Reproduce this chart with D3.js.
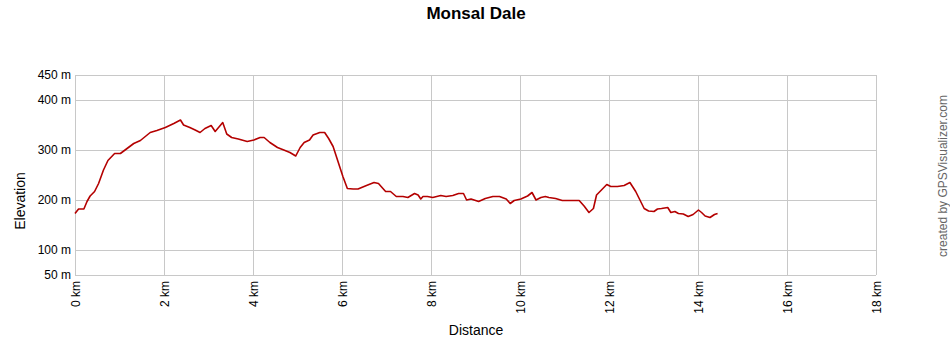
<!DOCTYPE html>
<html>
<head>
<meta charset="utf-8">
<script src="https://cdn.jsdelivr.net/npm/d3@7/dist/d3.min.js"></script>
<style>
  body { margin: 0; background: #fff; }
  svg { display: block; font-family: "Liberation Sans", Arial, sans-serif; }
</style>
</head>
<body>
<svg id="chart" width="950" height="350"></svg>
<script>
const title = "Monsal Dale";
const xTicks = [0, 2, 4, 6, 8, 10, 12, 14, 16, 18];
const yTicks = [50, 100, 200, 300, 400, 450];
const distKm = [0, 0.08, 0.2, 0.27, 0.34, 0.44, 0.53, 0.64, 0.74, 0.89, 1.02, 1.17, 1.32, 1.47, 1.69, 1.84, 2.03, 2.22, 2.37, 2.44,
  2.58, 2.70, 2.81, 2.92, 3.06, 3.15, 3.32, 3.41, 3.52, 3.67, 3.87, 4.02, 4.16, 4.25, 4.38, 4.55, 4.72, 4.83, 4.96, 5.06, 5.15, 5.27,
  5.35, 5.50, 5.61, 5.70, 5.80, 5.91, 6.02, 6.12, 6.25, 6.36, 6.55, 6.72, 6.82, 6.92, 6.98, 7.09, 7.22, 7.37, 7.48, 7.63, 7.71, 7.77, 7.82, 7.92,
  8.04, 8.22, 8.34, 8.49, 8.62, 8.73, 8.80, 8.90, 9.07, 9.22, 9.39, 9.54, 9.69, 9.78, 9.87, 10.02, 10.17, 10.27, 10.36, 10.47, 10.57,
  10.65, 10.80, 10.95, 11.14, 11.33, 11.44, 11.55, 11.65, 11.72, 11.83, 11.95, 12.04, 12.19, 12.34, 12.47, 12.60, 12.79, 12.89, 13.01, 13.09,
  13.18, 13.32, 13.39, 13.48, 13.56, 13.67, 13.78, 13.89, 14.01, 14.08, 14.16, 14.27, 14.37, 14.44];
const elevM = [173, 182, 182, 197, 208, 217, 233, 260, 279, 293, 293, 303, 313, 319, 335, 339, 345, 353, 360, 350,
  345, 340, 335, 343, 349, 337, 355, 332, 325, 322, 317, 320, 325, 325, 315, 305, 299, 295, 288, 305, 315, 320,
  330, 335, 335, 323, 307, 277, 247, 223, 222, 222, 229, 235, 233, 223, 217, 217, 207, 207, 205, 213, 210, 202, 207, 207,
  205, 209, 207, 209, 213, 213, 200, 202, 197, 203, 207, 207, 202, 193, 199, 202, 208, 215, 200, 205, 207,
  205, 203, 199, 199, 199, 188, 175, 183, 210, 220, 231, 227, 227, 229, 235, 217, 183, 178, 177, 182,
  183, 185, 175, 177, 173, 172, 167, 171, 180, 175, 168, 165, 171, 173];

const svg = d3.select("#chart");
const x = d3.scaleLinear().domain([0, 18]).range([75, 876]);
const y = d3.scaleLinear().domain([50, 450]).range([275, 75]);
const grid = "#c8c8c8";

// horizontal gridlines
svg.append("g").selectAll("line").data(yTicks).join("line")
  .attr("x1", x(0)).attr("x2", x(18))
  .attr("y1", d => y(d) + 0.5).attr("y2", d => y(d) + 0.5)
  .attr("stroke", grid).attr("stroke-width", 1);
// vertical gridlines
svg.append("g").selectAll("line").data(xTicks).join("line")
  .attr("x1", d => Math.round(x(d)) + 0.5).attr("x2", d => Math.round(x(d)) + 0.5)
  .attr("y1", y(450)).attr("y2", y(50))
  .attr("stroke", grid).attr("stroke-width", 1);

// y tick labels
svg.append("g").selectAll("text").data(yTicks).join("text")
  .attr("x", 71).attr("y", d => y(d)).attr("dy", "0.35em")
  .attr("text-anchor", "end").attr("font-size", 12).attr("fill", "#000")
  .text(d => d + " m");

// x tick labels rotated
svg.append("g").selectAll("text").data(xTicks).join("text")
  .attr("transform", d => `translate(${Math.round(x(d)) + 0.5},281) rotate(-90)`)
  .attr("dy", "0.35em")
  .attr("text-anchor", "end").attr("font-size", 12).attr("fill", "#000")
  .text(d => d + " km");

// line
const line = d3.line().x((d, i) => x(distKm[i])).y(d => y(d));
svg.append("path").datum(elevM)
  .attr("d", line).attr("fill", "none")
  .attr("stroke", "#b40000").attr("stroke-width", 1.6).attr("stroke-linejoin", "round");

// title
svg.append("text").attr("x", 476).attr("y", 19).attr("text-anchor", "middle")
  .attr("font-size", 17).attr("font-weight", "bold").text(title);

// axis titles
svg.append("text").attr("x", 476).attr("y", 335).attr("text-anchor", "middle")
  .attr("font-size", 14).text("Distance");
svg.append("text").attr("transform", "translate(25,201) rotate(-90)").attr("text-anchor", "middle")
  .attr("font-size", 14).text("Elevation");

svg.append("text").attr("transform", "translate(947,176) rotate(-90)").attr("text-anchor", "middle")
  .attr("font-size", 12).attr("fill", "#666").text("created by GPSVisualizer.com");
</script>
</body>
</html>
